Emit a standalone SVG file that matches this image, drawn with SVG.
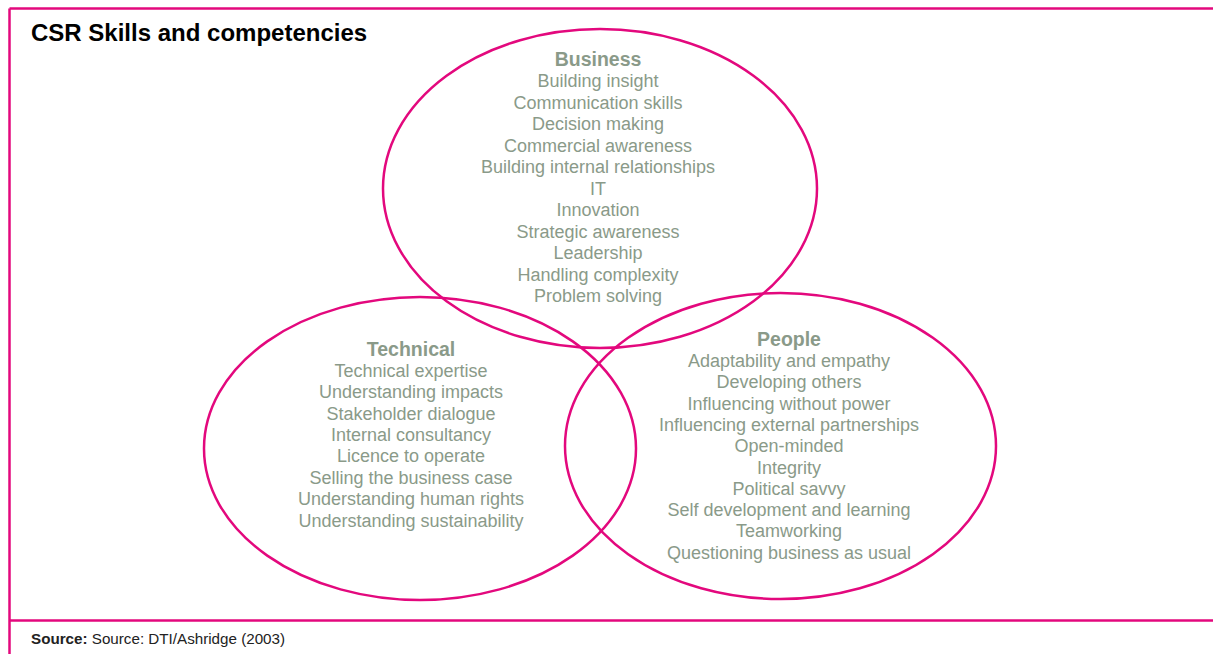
<svg xmlns="http://www.w3.org/2000/svg" width="1213" height="654" viewBox="0 0 1213 654">
<style>
.frame{stroke:#e3087d;stroke-width:2.5;fill:none}
.circ{stroke:#e3087d;stroke-width:2.5;fill:none}
.t{font-family:"Liberation Sans",Arial,sans-serif;font-size:18px;fill:#8a9a89;text-anchor:middle}
.h{font-weight:bold;font-size:19.5px}
.title{font-family:"Liberation Sans",Arial,sans-serif;font-size:24px;font-weight:bold;fill:#000}
.src{font-family:"Liberation Sans",Arial,sans-serif;font-size:15.2px;fill:#222}
</style>
<rect width="1213" height="654" fill="#fff"/>
<g id="frame">
<line class="frame" x1="9.5" y1="8.5" x2="1213" y2="8.5"/>
<line class="frame" x1="9.5" y1="8.5" x2="9.5" y2="654"/>
<line class="frame" x1="9.5" y1="620.5" x2="1213" y2="620.5"/>
</g>
<text class="title" x="31" y="41">CSR Skills and competencies</text>
<g id="business">
<ellipse class="circ" cx="600" cy="188.5" rx="217" ry="159.5"/>
<text class="t h" x="598" y="66">Business</text>
<text class="t" x="598" y="87">Building insight</text>
<text class="t" x="598" y="108.5">Communication skills</text>
<text class="t" x="598" y="130">Decision making</text>
<text class="t" x="598" y="151.5">Commercial awareness</text>
<text class="t" x="598" y="173">Building internal relationships</text>
<text class="t" x="598" y="194.5">IT</text>
<text class="t" x="598" y="216">Innovation</text>
<text class="t" x="598" y="237.5">Strategic awareness</text>
<text class="t" x="598" y="259">Leadership</text>
<text class="t" x="598" y="280.5">Handling complexity</text>
<text class="t" x="598" y="302">Problem solving</text>
</g>
<g id="technical">
<ellipse class="circ" cx="420" cy="448.5" rx="216" ry="151.5"/>
<text class="t h" x="411" y="356">Technical</text>
<text class="t" x="411" y="377">Technical expertise</text>
<text class="t" x="411" y="398.3">Understanding impacts</text>
<text class="t" x="411" y="419.6">Stakeholder dialogue</text>
<text class="t" x="411" y="441">Internal consultancy</text>
<text class="t" x="411" y="462.3">Licence to operate</text>
<text class="t" x="411" y="483.6">Selling the business case</text>
<text class="t" x="411" y="505">Understanding human rights</text>
<text class="t" x="411" y="526.5">Understanding sustainability</text>
</g>
<g id="people">
<ellipse class="circ" cx="780.5" cy="446" rx="215.5" ry="153"/>
<text class="t h" x="789" y="346">People</text>
<text class="t" x="789" y="367">Adaptability and empathy</text>
<text class="t" x="789" y="388.3">Developing others</text>
<text class="t" x="789" y="409.6">Influencing without power</text>
<text class="t" x="789" y="430.9">Influencing external partnerships</text>
<text class="t" x="789" y="452.2">Open-minded</text>
<text class="t" x="789" y="473.5">Integrity</text>
<text class="t" x="789" y="494.8">Political savvy</text>
<text class="t" x="789" y="516.1">Self development and learning</text>
<text class="t" x="789" y="537.4">Teamworking</text>
<text class="t" x="789" y="558.7">Questioning business as usual</text>
</g>
<g id="connectors"></g>
<text class="src" x="31" y="644"><tspan font-weight="bold">Source:</tspan> Source: DTI/Ashridge (2003)</text>
</svg>
